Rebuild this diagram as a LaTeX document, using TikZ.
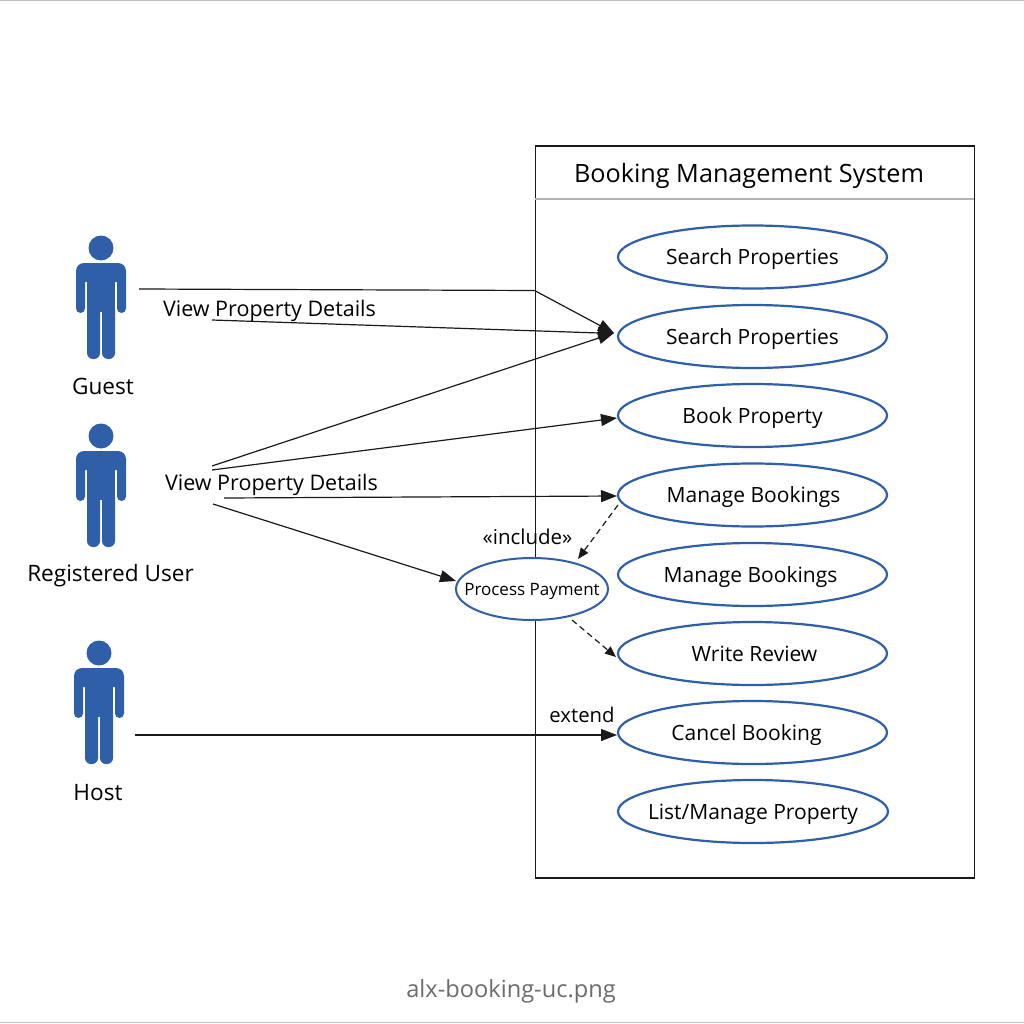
\documentclass[tikz,border=0pt]{standalone}
\usepackage{fontspec}
\setmainfont{Open Sans}
\usetikzlibrary{arrows.meta,shapes.geometric}
\definecolor{ublue}{HTML}{2F5FA8}
\definecolor{ink}{HTML}{1A1A1A}
\newcommand{\ctext}[2][0pt]{\makebox[0pt]{\hspace*{#1}\raisebox{-0.38em}[0pt][0pt]{#2}}}
\tikzset{
  x=1pt,y=-1pt,
  usecase/.style={draw=ublue,line width=2.2pt,fill=white,ellipse,minimum width=269pt,minimum height=63pt,inner sep=0pt,text=black,font=\fontsize{21}{25}\selectfont},
  lbl/.style={inner sep=0pt,text=black,font=\fontsize{21.5}{25}\selectfont},
  conn/.style={draw=ink,line width=1.2pt},
  arr/.style={conn,-{Triangle[length=16pt,width=12pt]}},
  dasharr/.style={conn,dash pattern=on 6pt off 4pt,-{Triangle[length=11pt,width=9pt]}},
  pics/actor/.style={code={
    \fill[ublue] (0,0) circle[radius=12.5];
    \fill[ublue,rounded corners=8pt] (-25,34) -- (-25,15) -- (25,15) -- (25,34) -- cycle;
    \fill[ublue,rounded corners=4.5pt] (-25,22) rectangle (-16,65);
    \fill[ublue,rounded corners=4.5pt] (16,22) rectangle (25,65);
    \fill[ublue] (-14,24) rectangle (14,64);
    \fill[ublue] (-25,25) rectangle (-16,33);
    \fill[ublue] (16,25) rectangle (25,33);
    \fill[ublue,rounded corners=6pt] (-14,56) rectangle (-1,111);
    \fill[ublue,rounded corners=6pt] (1,56) rectangle (14,111);
    \fill[ublue] (-14,56) rectangle (-1,66);
    \fill[ublue] (1,56) rectangle (14,66);
  }}
}
\begin{document}
\begin{tikzpicture}
\useasboundingbox (0,0) rectangle (1024,1024);
\fill[white] (0,0) rectangle (1024,1024);
\draw[gray!50,line width=1pt] (0,0.5) -- (1024,0.5);
\draw[gray!50,line width=1pt] (0,1022.5) -- (1024,1022.5);
% system
\node[draw=ink,line width=1.8pt,minimum width=439pt,minimum height=731.5pt,inner sep=0pt,anchor=north west] (sys) at (534.5,145.5) {};
\coordinate (divL) at (534.5,199); \coordinate (divR) at (973.5,199);
\draw[gray!60,line width=1.3pt] (divL) -- (divR);
\node[inner sep=0pt,font=\fontsize{25.2}{30}\selectfont] (title) at (749,175.5) {Booking Management System};
% actors
\pic at (101,248) {actor};
\pic at (101,436) {actor};
\pic at (99,653) {actor};
\coordinate (guestA) at (139,289);
\coordinate (guestB) at (212,320);
\coordinate (bend) at (534.5,290.5);
\coordinate (regA) at (212,466);
\coordinate (regB) at (212,470);
\coordinate (regC) at (224,498);
\coordinate (regD) at (213,504);
\coordinate (hostA) at (135,735);
\node[lbl,font=\fontsize{22.6}{26}\selectfont] (guest) at (103,386.5) {Guest};
\node[lbl,font=\fontsize{22.6}{26}\selectfont] (reg) at (110.5,576) {Registered User};
\node[lbl,font=\fontsize{22.6}{26}\selectfont] (host) at (98,793) {Host};
% use cases
\node[usecase] (u1) at (752.5,257) {\ctext{Search Properties}};
\node[usecase] (u2) at (752.5,336.5) {\ctext{Search Properties}};
\node[usecase] (u3) at (752.5,415.5) {\ctext{Book Property}};
\node[usecase] (u4) at (752.5,495) {\ctext[2pt]{Manage Bookings}};
\node[usecase] (u5) at (752.5,574.5) {\ctext[-4pt]{Manage Bookings}};
\node[usecase] (u6) at (752.5,653.5) {\ctext[4pt]{Write Review}};
\node[usecase] (u7) at (752.5,732.5) {\ctext[-12pt]{Cancel Booking}};
\node[usecase,minimum width=270pt] (u8) at (753,811.5) {\ctext{List/Manage Property}};
\coordinate (u2t) at (614,333);
\coordinate (u2m) at (614,333.5);
\coordinate (u2b) at (614,333);
\coordinate (u3a) at (617,418);
\coordinate (u4a) at (617,496);
\coordinate (u4d) at (618,505);
\coordinate (payT) at (578,559);
\coordinate (payB) at (572,620);
\coordinate (u6a) at (616,657);
\coordinate (u7a) at (617,735);
\coordinate (payL) at (456,581);
% connectors
\draw[conn] (guestA) -- (bend);
\draw[arr] (bend) -- (u2t);
\draw[arr] (guestB) -- (u2m);
\draw[arr] (regA) -- (u2b);
\draw[arr] (regB) -- (u3a);
\draw[arr] (regC) -- (u4a);
\draw[arr] (regD) -- (payL);
\draw[arr] (hostA) -- (u7a);
\node[draw=ublue,line width=2pt,fill=white,ellipse,minimum width=152pt,minimum height=62pt,inner sep=0pt,font=\fontsize{17}{20}\selectfont] (pay) at (532,589) {\ctext{Process Payment}};
\draw[dasharr] (u4d) -- (payT);
\draw[dasharr] (payB) -- (u6a);
% labels
\node[lbl,font=\fontsize{21.5}{25}\selectfont] (l1) at (269.5,311) {View Property Details};
\node[lbl,font=\fontsize{21.5}{25}\selectfont] (l2) at (271.5,485) {View Property Details};
\node[lbl,font=\fontsize{20.5}{24}\selectfont] (inc) at (527.5,537) {«include»};
\node[lbl,font=\fontsize{20.3}{24}\selectfont] (ext) at (582,714.5) {extend};
\node[inner sep=0pt,text=gray!85!black,font=\fontsize{23.6}{28}\selectfont] (cap) at (511,991) {alx-booking-uc.png};
\end{tikzpicture}
\end{document}
